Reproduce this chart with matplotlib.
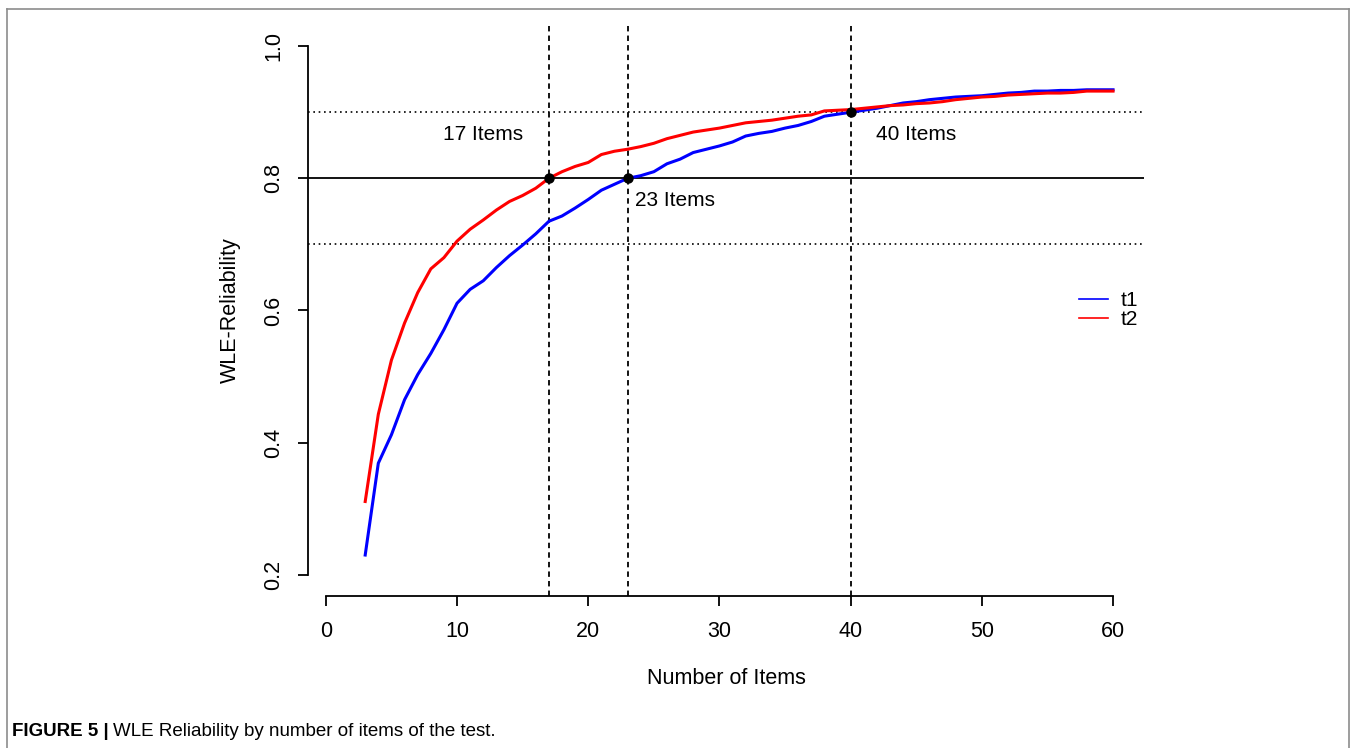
import numpy as np
import matplotlib.pyplot as plt
from matplotlib.lines import Line2D

plt.rcParams['font.family'] = ['Liberation Sans', 'DejaVu Sans']

# number of items (curves start at 3 items)
items = list(range(3, 61))

# WLE reliability, first time point
t1 = [0.230, 0.369, 0.412, 0.465, 0.503, 0.535, 0.571, 0.611, 0.632, 0.645,
      0.665, 0.683, 0.699, 0.716, 0.735, 0.743, 0.755, 0.768, 0.782, 0.791,
      0.800, 0.804, 0.810, 0.822, 0.829, 0.839, 0.844, 0.849, 0.855, 0.864,
      0.868, 0.871, 0.876, 0.880, 0.886, 0.894, 0.897, 0.900, 0.903, 0.906,
      0.910, 0.914, 0.916, 0.919, 0.921, 0.923, 0.924, 0.925, 0.927, 0.929,
      0.930, 0.932, 0.932, 0.933, 0.933, 0.934, 0.934, 0.934]

# WLE reliability, second time point
t2 = [0.311, 0.443, 0.525, 0.581, 0.627, 0.663, 0.680, 0.705, 0.723, 0.737,
      0.752, 0.765, 0.774, 0.785, 0.800, 0.810, 0.818, 0.824, 0.836, 0.841,
      0.844, 0.848, 0.853, 0.860, 0.865, 0.870, 0.873, 0.876, 0.880, 0.884,
      0.886, 0.888, 0.891, 0.894, 0.896, 0.902, 0.903, 0.904, 0.906, 0.908,
      0.910, 0.911, 0.913, 0.914, 0.916, 0.919, 0.921, 0.923, 0.924, 0.926,
      0.927, 0.928, 0.929, 0.929, 0.930, 0.932, 0.932, 0.932]

# reference lines and marked cut points
hlines_dotted = [0.7, 0.9]
hline_solid = 0.8
cut_items = [17, 23, 40]
cut_values = [0.8, 0.8, 0.9]
cut_labels = ['17 Items', '23 Items', '40 Items']
label_x = [12.0, 26.6, 45.0]
label_y = [0.867, 0.767, 0.867]

xticks = [0, 10, 20, 30, 40, 50, 60]
yticks = [0.2, 0.4, 0.6, 0.8, 1.0]

fig = plt.figure(figsize=(13.56, 7.48), dpi=100)
W, H = 1356, 748
# plot region in pixels: x 308..1144, y 25..596
ax = fig.add_axes([308 / W, 1 - 596 / H, (1144 - 308) / W, (596 - 25) / H])
ax.set_xlim(-1.36, 62.36)
ax.set_ylim(0.168, 1.032)

# reference lines
for h in hlines_dotted:
    ax.axhline(h, color='black', lw=1.2, dashes=(1, 2.2))
ax.axhline(hline_solid, color='black', lw=1.3)
for v in cut_items:
    ax.axvline(v, color='black', lw=1.3, dashes=(3, 2.3))

# curves
ax.plot(items, t1, color='#0000FF', lw=2.2)
ax.plot(items, t2, color='#FF0000', lw=2.2)

ax.plot(cut_items, cut_values, 'o', color='black', ms=6.5, zorder=5)

for x, y, s in zip(label_x, label_y, cut_labels):
    ax.text(x, y, s, fontsize=15, ha='center', va='center')

# R style axes
for side in ['top', 'right']:
    ax.spines[side].set_visible(False)
ax.spines['left'].set_bounds(0.2, 1.0)
ax.spines['bottom'].set_bounds(0, 60)
ax.spines['left'].set_linewidth(1.3)
ax.spines['bottom'].set_linewidth(1.3)
ax.set_xticks(xticks)
ax.set_xticklabels([str(t) for t in xticks])
ax.set_yticks(yticks)
ax.set_yticklabels(['%.1f' % t for t in yticks], rotation=90, va='center')
ax.tick_params(axis='both', labelsize=15.5, length=7, width=1.3, colors='black')
ax.tick_params(axis='x', pad=11)
ax.tick_params(axis='y', pad=10)

ax.set_xlabel('Number of Items', fontsize=15.5)
ax.xaxis.set_label_coords(0.5, (596 - 678) / 571)
ax.xaxis.label.set_va('center')
ax.set_ylabel('WLE-Reliability', fontsize=15.5)
ax.yaxis.set_label_coords((230 - 308) / 836, 0.5)
ax.yaxis.label.set_va('center')

handles = [Line2D([], [], color='#0000FF', lw=1.2), Line2D([], [], color='#FF0000', lw=1.2)]
ax.legend(handles, ['t1', 't2'], loc='center left', bbox_to_anchor=((1079 - 308) / 836, 0.5),
          frameon=False, fontsize=15, borderpad=0, borderaxespad=0,
          handlelength=1.4, handletextpad=0.6, labelspacing=0.0)

# outer frame (open at bottom)
frame_col = '#8c8c8c'
fig.add_artist(Line2D([7 / W, 7 / W], [0, 1 - 9 / H], color=frame_col, lw=1.2))
fig.add_artist(Line2D([1349 / W, 1349 / W], [0, 1 - 9 / H], color=frame_col, lw=1.2))
fig.add_artist(Line2D([7 / W, 1349 / W], [1 - 9 / H, 1 - 9 / H], color=frame_col, lw=1.2))

# caption
cap = fig.text(12 / W, 1 - 731 / H, 'FIGURE 5 |', fontsize=13.5, fontweight='bold', va='center')
fig.canvas.draw()
bb = cap.get_window_extent()
fig.text(bb.x1 / W + 4 / W, 1 - 731 / H, 'WLE Reliability by number of items of the test.',
         fontsize=13.5, va='center')

fig.savefig('out.png', dpi=100)
